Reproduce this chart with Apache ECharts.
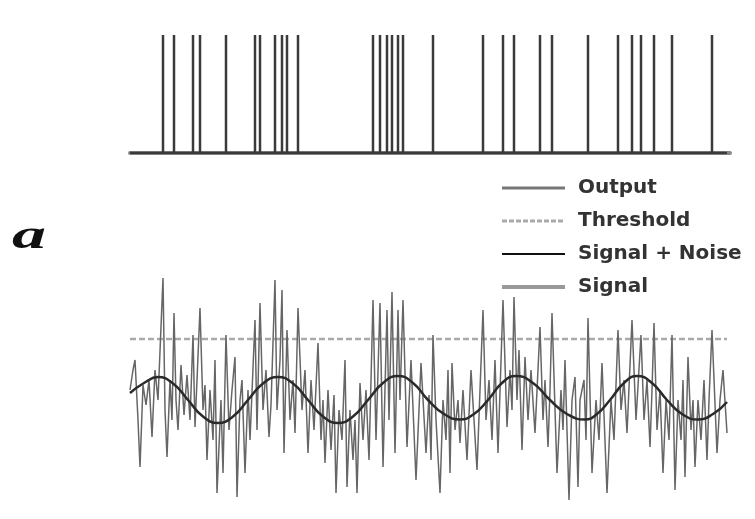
<!DOCTYPE html>
<html><head><meta charset="utf-8">
<script src="https://cdn.jsdelivr.net/npm/echarts@6/dist/echarts.min.js"></script>
<style>html,body{margin:0;padding:0;background:#fff}#c{width:755px;height:519px}</style>
</head><body><div id="c"></div>
<script>
// Output spike times (time units)
const spikeTimes = [33,44,63,70,96,125,130,145,152,157,168,243,250,257,262,268,273,303,353,373,384,410,422,458,488,502,511,524,542,582];
// Signal + Noise
const noiseTime = [0,3,5,8,10,13,16,19,22,25,28,33,35,37,40,42,44,46,48,51,54,57,60,63,65,67,70,73,75,77,80,83,85,87,91,93,96,99,102,105,107,110,112,115,118,120,125,127,130,133,136,139,141,145,147,150,152,154,157,160,163,165,168,172,175,178,181,184,188,191,193,195,198,201,204,206,209,212,215,217,220,223,225,227,230,233,236,239,243,246,250,253,257,259,262,265,268,270,273,277,281,286,291,296,299,301,303,306,310,313,316,318,320,322,325,328,330,333,337,341,347,353,356,359,362,365,368,373,377,380,382,384,387,389,392,395,398,401,405,410,413,415,418,420,422,427,431,433,435,439,442,445,448,450,454,456,458,462,466,469,472,477,481,484,488,491,494,497,502,506,511,514,517,520,522,524,527,530,533,536,539,542,545,548,551,553,555,558,561,563,565,568,571,574,577,579,582,587,590,593,597];
const noiseValue = [1.0,3.0,4.0,-2.0,-6.7,1.5,-0.5,2.0,-3.7,3.0,0,12.2,-1.0,-5.7,2.0,-2.0,8.7,0,-3.0,3.5,-1.5,2.5,-2.0,6.5,-2.7,2.0,9.2,-1.0,1.5,-6.0,1.0,-4.0,4.0,-9.3,0,-7.3,6.5,-3.0,1.0,4.3,-9.7,0,2.0,-7.3,1.0,-4.0,8.0,-3.0,9.7,-1.0,3.0,-3.7,-0.5,12.0,-1.0,4.0,11.0,-5.3,7.0,-2.0,2.0,-3.3,9.2,-1.0,3.0,-5.3,2.0,-3.0,5.7,-4.0,0,-6.3,1.0,-5.0,0.5,-9.3,-1.0,-4.0,4.0,-8.7,-1.0,-6.0,-2.0,-9.3,1.7,-4.0,1.0,-6.0,10.0,-4.0,9.7,-6.7,9.0,-2.0,10.8,-5.3,9.0,0,10.0,-4.7,4.0,-8.0,3.7,-5.3,0.5,-6.0,6.5,-2.0,-9.3,0,-4.0,3.0,-7.3,3.7,-3.0,0,-4.3,1.0,-6.0,3.0,-7.0,9.0,-2.0,2.0,-4.0,4.0,-5.3,10.0,-2.7,3.0,-1.0,10.3,0,5.0,-5.0,4.3,-2.0,3.0,-3.3,7.3,-2.0,2.0,-4.7,1.0,8.7,-7.3,1.0,-3.0,4.0,-10.0,0,2.3,-8.7,0,2.0,-4.0,8.2,-7.3,0,-4.0,3.7,-9.3,0,-4.0,7.0,-1.0,2.0,-3.3,8.0,-2.0,6.5,-2.0,2.0,-4.7,1.0,7.7,-3.0,1.0,-7.3,0,-4.0,6.5,-9.0,0,-4.0,2.0,-7.7,4.3,-3.0,0,-6.7,0,-4.0,2.0,-6.0,0,7.0,-5.3,0,3.0,-3.3];
// Signal
const signalTime = [0,14,28,43,58,73,88,103,118,133,148,163,178,193,208,223,238,253,268,283,298,314,330,344,358,372,386,403,420,437,455,467,480,494,507,522,537,552,568,583,597];
const signalValue = [0.7,1.7,2.3,1.65,0,-1.65,-2.3,-1.65,0,1.65,2.3,1.65,0,-1.65,-2.3,-1.65,0,1.7,2.4,1.7,0,-1.4,-1.95,-1.4,0,1.7,2.4,1.7,0,-1.4,-1.95,-1.4,0,1.7,2.4,1.7,0,-1.4,-1.95,-1.4,-0.2];
const thresholdValue = 6.1;
const timeStart = 0, timeEnd = 597;
const seriesNames = ['Output','Threshold','Signal + Noise','Signal'];
const panelLabel = 'a';

const outputData = [[0,0]];
spikeTimes.forEach(t => { outputData.push([t,0],[t,1],[t,0]); });
outputData.push([timeEnd,0]);
const noiseData = noiseTime.map((t,i)=>[t, noiseValue[i]]);
const signalData = signalTime.map((t,i)=>[t, signalValue[i]]);
const thresholdData = [[timeStart, thresholdValue],[timeEnd, thresholdValue]];

const hideSym = {opacity:0, borderWidth:0};
const chart = echarts.init(document.getElementById('c'), null, {renderer:'canvas'});
chart.setOption({
  animation:false,
  backgroundColor:'#fff',
  grid:[
    {left:130, width:600, top:35, height:118},
    {left:130, width:600, top:260, height:250}
  ],
  xAxis:[
    {type:'value', gridIndex:0, min:0, max:600, show:true, axisLine:{show:true, lineStyle:{color:'#888', width:4}}, axisTick:{show:false}, axisLabel:{show:false}, splitLine:{show:false}},
    {type:'value', gridIndex:1, min:0, max:600, show:false}
  ],
  yAxis:[
    {type:'value', gridIndex:0, min:0, max:1, show:false},
    {type:'value', gridIndex:1, min:-11, max:14, show:false}
  ],
  legend:{
    orient:'vertical', left:500, top:178, padding:0, itemWidth:63, itemHeight:14, itemGap:13,
    textStyle:{fontFamily:'DejaVu Sans', fontWeight:'bold', fontSize:20, color:'#333', lineHeight:20, padding:[0,0,0,8]},
    data:[
      {name:'Output', itemStyle:hideSym, lineStyle:{color:'#777', width:3}},
      {name:'Threshold', itemStyle:hideSym, lineStyle:{color:'#aaa', width:3, type:[5,2]}},
      {name:'Signal + Noise', itemStyle:hideSym, lineStyle:{color:'#111', width:2}},
      {name:'Signal', itemStyle:hideSym, lineStyle:{color:'#999', width:4}}
    ]
  },
  graphic:[{type:'text', left:12, top:218, scaleX:1.7, style:{text:panelLabel, font:'italic bold 40px "Liberation Serif"', fill:'#111'}}],
  series:[
    {name:'Output', type:'line', xAxisIndex:0, yAxisIndex:0, data:outputData, symbol:'none', lineStyle:{color:'#3a3a3a', width:2.5}, itemStyle:{color:'#3a3a3a'}},
    {name:'Threshold', type:'line', xAxisIndex:1, yAxisIndex:1, data:thresholdData, symbol:'none', lineStyle:{color:'#aaa', width:2.5, type:[6,3]}, itemStyle:{color:'#aaa'}},
    {name:'Signal + Noise', type:'line', xAxisIndex:1, yAxisIndex:1, data:noiseData, symbol:'none', lineStyle:{color:'#666', width:1.5}, itemStyle:{color:'#111'}},
    {name:'Signal', type:'line', xAxisIndex:1, yAxisIndex:1, data:signalData, symbol:'none', smooth:0.5, lineStyle:{color:'#2a2a2a', width:2.5}, itemStyle:{color:'#999'}}
  ]
});
</script></body></html>
